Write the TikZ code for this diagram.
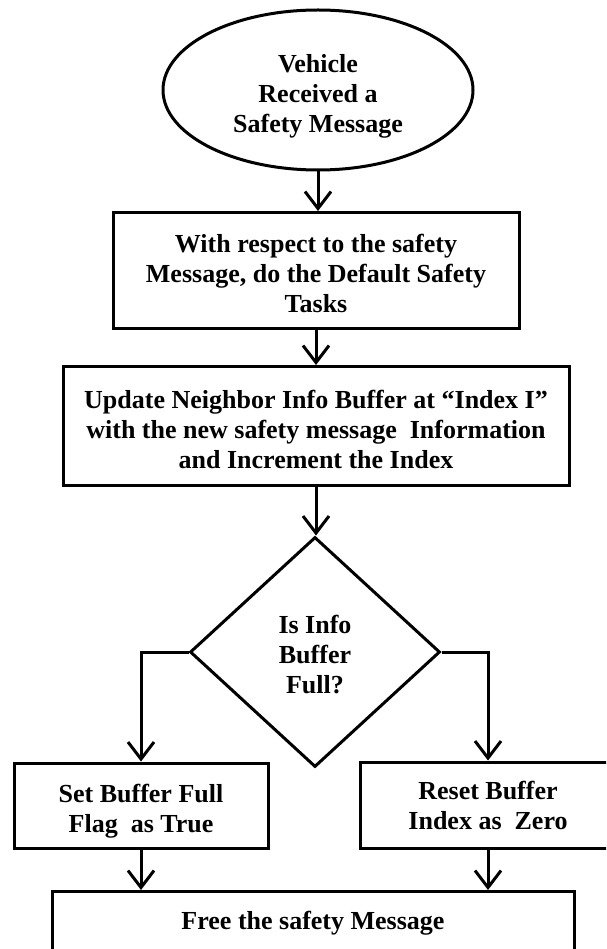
\documentclass[tikz,border=0pt]{standalone}
\usepackage{fontspec}
\setmainfont{Liberation Serif}
\usetikzlibrary{shapes.geometric,arrows.meta}
\newcommand\lowerby[1]{\rule{0pt}{#1}}
\begin{document}
\begin{tikzpicture}[x=1pt,y=-1pt,
  every node/.style={font=\fontsize{26}{30}\selectfont\bfseries, align=center, inner sep=0pt, text=black},
  shp/.style={draw=black, line width=3pt},
  boxn/.style={shp, rectangle},
  flow/.style={draw=black, line width=3pt, -{Straight Barb[length=17pt,width=26pt,line width=3pt]}}
]
\clip (0,0) rectangle (606,949);
\fill[white] (0,0) rectangle (606,949);
% start
\node[shp, ellipse, minimum width=310pt, minimum height=160pt] (e) at (318,90) {\lowerby{30pt}Vehicle\\Received a\\Safety Message};
% default tasks
\node[boxn, minimum width=406pt, minimum height=116pt] (b2) at (316,270.5) {\lowerby{24pt}With respect to the safety\\Message, do the Default Safety\\Tasks};
% update buffer
\node[boxn, minimum width=506pt, minimum height=119pt] (b3) at (316,426) {\lowerby{26pt}Update Neighbor Info Buffer at “Index I”\\with the new safety message~~Information\\and Increment the Index};
% decision
\node[shp, diamond, minimum width=250pt, minimum height=230pt] (d) at (315,652) {\lowerby{24pt}Is Info\\Buffer\\Full?};
% branches
\node[boxn, minimum width=254pt, minimum height=85pt] (lb) at (141,805.5) {\lowerby{30pt}Set Buffer Full\\Flag~~as True};
\node[boxn, minimum width=256pt, minimum height=86pt] (rb) at (488,805) {Reset Buffer\\Index as~~Zero};
% end
\node[boxn, minimum width=522pt, minimum height=90pt, anchor=north] (bb) at (313,890) {};
\node (bbt) at (313,923) {Free the safety Message};
% connectors
\draw[flow] (e.south) -- (e.south |- b2.north);
\draw[flow] (b2.south) -- (b3.north);
\draw[flow] (b3.south) -- (b3.south |- d.north);
\draw[flow] (d.west) -| (lb.north);
\draw[flow] (d.east) -| (rb.north);
\draw[flow] (lb.south) -- (lb.south |- bb.north);
\draw[flow] (rb.south) -- (rb.south |- bb.north);
\end{tikzpicture}
\end{document}
